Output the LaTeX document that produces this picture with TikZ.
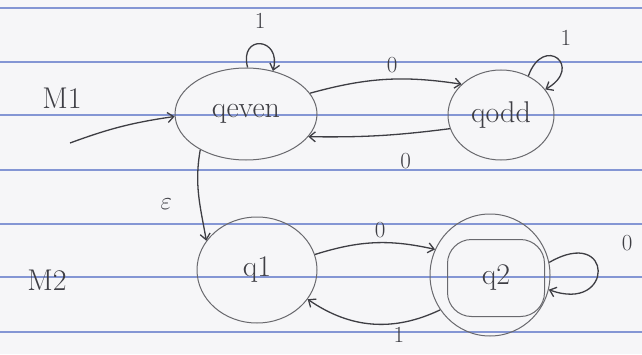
\documentclass[tikz,border=0pt]{standalone}
\usepackage{tikz}
\usetikzlibrary{arrows.meta,positioning,shapes.geometric,calc}
\definecolor{paper}{RGB}{246,246,248}
\definecolor{ruling}{RGB}{132,150,212}
\definecolor{ink}{RGB}{62,62,68}
\definecolor{pencil}{RGB}{105,105,110}

\begin{document}
\begin{tikzpicture}[x=1pt, y=1pt, font=\fontsize{30}{32}\selectfont, >={Straight Barb[length=6pt,width=10pt]}]
\tikzstyle{state}=[draw=pencil, line width=1pt, ellipse, inner sep=0pt, text=ink]
\tikzstyle{trans}=[->, draw=ink, line width=1.3pt]
\tikzstyle{lbl}=[font=\fontsize{23}{25}\selectfont, text=ink, inner sep=1pt]
\useasboundingbox (0,0) rectangle (642,354);
\fill[paper] (0,0) rectangle (642,354);
\foreach \y in {22,77,130,184,239,292,346}
  \draw[ruling, line width=1.8pt] (0,\y) -- (642,\y);
% machine M1
\node[text=ink] (m1) at (62,256) {M1};
\node[state, minimum width=142pt, minimum height=92pt] (qeven) at (246,240) {qeven};
\node[state, minimum width=106pt, minimum height=90pt] (qodd) at (501,239) {qodd};
\coordinate (start) at (70,211);
\draw[trans] (start) to[bend left=6] (qeven.182);
\draw[trans] (qeven.88) .. controls +(105:35) and +(75:35) .. (qeven.58) node[lbl, pos=.5, above=14pt] {1};
\draw[trans] (qodd.55) .. controls +(70:45) and +(30:45) .. (qodd.30) node[lbl, pos=.45, above right=10pt and 4pt] {1};
\draw[trans] (qeven.18) to[bend left=12] node[lbl, pos=.55, above=5pt] {0} (qodd.142);
\draw[trans] (qodd.195) to[bend left=4] node[lbl, pos=.3, below=18pt] {0} (qeven.-20);
% machine M2
\node[text=ink] (m2) at (47,74) {M2};
\node[state, minimum width=120pt, minimum height=106pt] (q1) at (257,84) {q1};
\node[state, minimum width=120pt, minimum height=122pt] (q2) at (490,79) {};
\node[draw=pencil, line width=1pt, rectangle, rounded corners=24pt, minimum width=97pt, minimum height=77pt, text=ink] (q2in) at (496,76) {q2};
\draw[trans] (qeven.218) to[out=260,in=100] node[lbl, pos=.6, left=26pt] {$\varepsilon$} (q1.150);
\draw[trans] (q1.15) to[bend left=15] node[lbl, pos=.55, above=3pt] {0} (q2.155);
\draw[trans] (q2.215) to[bend left=30] node[lbl, pos=.3, below=3pt] {1} (q1.-30);
\draw[trans] (q2.12) .. controls +(30:75) and +(-20:70) .. (q2.-14) node[lbl, pos=.3, above right=4pt and 30pt] {0};
\end{tikzpicture}
\end{document}
